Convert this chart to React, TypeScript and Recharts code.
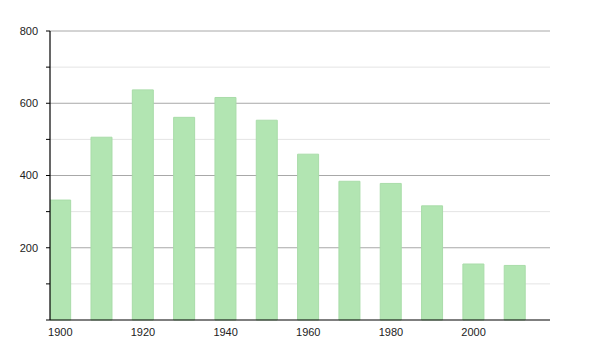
import {
  BarChart,
  Bar,
  XAxis,
  YAxis,
  CartesianGrid,
} from "recharts";

const years = [1900, 1910, 1920, 1930, 1940, 1950, 1960, 1970, 1980, 1990, 2000, 2010];
const population = [332, 506, 637, 561, 616, 553, 459, 384, 378, 316, 155, 151];

const xTicks = [1900, 1920, 1940, 1960, 1980, 2000];
const yTicks = [0, 100, 200, 300, 400, 500, 600, 700, 800];
const majorLines = [200, 400, 600, 800];
const minorLines = [100, 300, 500, 700];

const data = years.map((year, i) => ({ year, value: population[i] }));

const font = { fontFamily: "Liberation Sans, Arial, sans-serif", fontSize: 11, fill: "#222" };

export default function App() {
  return (
    <div style={{ position: "absolute", left: 0, top: 0, background: "#fff" }}>
      <BarChart
        width={600}
        height={350}
        data={data}
        margin={{ top: 31, right: 50, bottom: 0, left: 0 }}
      >
        <CartesianGrid
          vertical={false}
          horizontalValues={minorLines}
          stroke="#e4e4e4"
        />
        <CartesianGrid
          vertical={false}
          horizontalValues={majorLines}
          stroke="#a8a8a8"
        />
        <XAxis
          dataKey="year"
          type="number"
          domain={[1897.5, 2018.5]}
          allowDataOverflow
          ticks={xTicks}
          tickLine={false}
          axisLine={{ stroke: "#000", strokeWidth: 1.2 }}
          tick={font}
          tickMargin={2}
          height={30}
        />
        <YAxis
          domain={[0, 800]}
          ticks={yTicks}
          interval={0}
          width={50}
          tickSize={4}
          tickMargin={8}
          tickLine={{ stroke: "#000" }}
          axisLine={{ stroke: "#000", strokeWidth: 1.2 }}
          tick={font}
          tickFormatter={(v: number) => (majorLines.includes(v) ? String(v) : "")}
        />
        <Bar
          dataKey="value"
          barSize={21}
          fill="#b2e5b2"
          stroke="#a9dca9"
          strokeWidth={1}
          isAnimationActive={false}
        />
      </BarChart>
    </div>
  );
}
